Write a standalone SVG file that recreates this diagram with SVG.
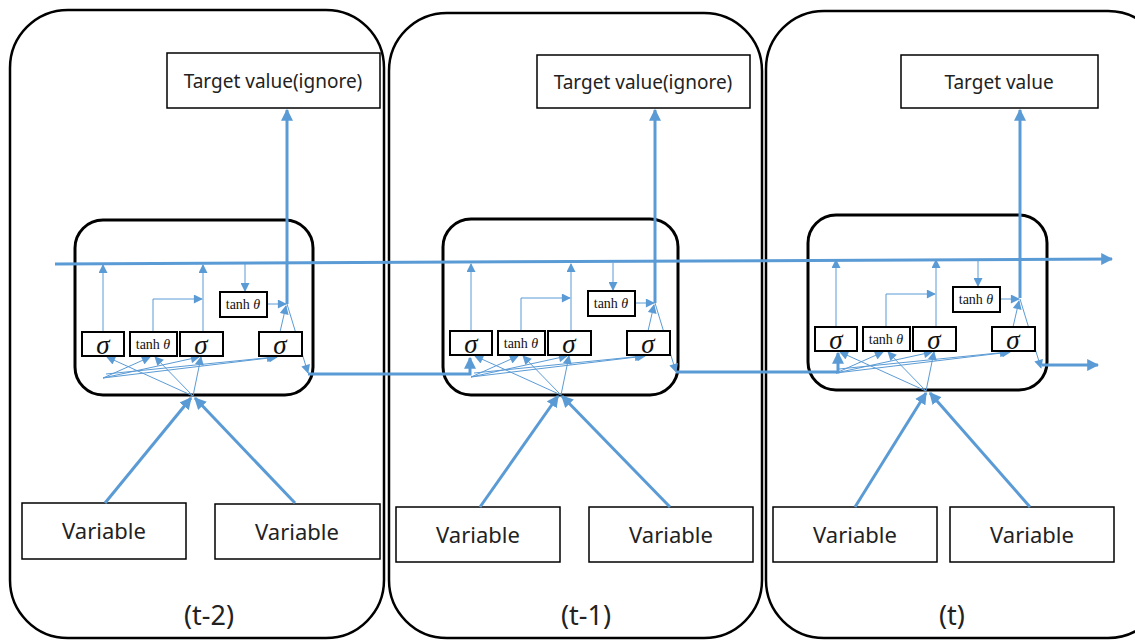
<svg xmlns="http://www.w3.org/2000/svg" width="1135" height="640" viewBox="0 0 1135 640">
<style>
.panel{fill:none;stroke:#000;stroke-width:2.5}
.cell{fill:none;stroke:#000;stroke-width:3}
.box{fill:#fff;stroke:#000;stroke-width:1.5}
.gate{fill:#fff;stroke:#000;stroke-width:2}
.lbl{font-family:"Noto Sans","Open Sans",sans-serif;font-size:19px;fill:#222;text-anchor:middle}
.var{font-family:"Noto Sans","Open Sans",sans-serif;font-size:22px;fill:#222;text-anchor:middle}
.time{font-family:"Noto Sans","Open Sans",sans-serif;font-size:27px;fill:#222;text-anchor:middle}
.sig{font-family:"Liberation Serif","DejaVu Serif",serif;font-style:italic;font-size:27px;fill:#111;text-anchor:middle}
.tanh{font-family:"Liberation Serif","DejaVu Serif",serif;font-size:14px;fill:#111;text-anchor:middle}
.th{stroke:#5B9BD5;stroke-width:3;fill:none}
.tn{stroke:#5B9BD5;stroke-width:1;fill:none}
</style>
<defs>
<marker id="ah" viewBox="0 0 10 10" refX="9" refY="5" markerWidth="4" markerHeight="4" orient="auto" markerUnits="strokeWidth"><path d="M0,0 L10,5 L0,10 z" fill="#5B9BD5"/></marker>
<marker id="as" viewBox="0 0 10 10" refX="9" refY="5" markerWidth="10" markerHeight="9" orient="auto" markerUnits="strokeWidth"><path d="M0,0 L10,5 L0,10 z" fill="#5B9BD5"/></marker>
</defs>

<g id="panel-t2">
<rect class="panel" x="10" y="10" width="374" height="628" rx="58"/>
<text class="time" x="209" y="625">(t-2)</text>
</g>
<g id="panel-t1">
<rect class="panel" x="389" y="13" width="373" height="625" rx="58"/>
<text class="time" x="586" y="625">(t-1)</text>
</g>
<g id="panel-t">
<rect class="panel" x="766" y="11" width="400" height="627" rx="58"/>
<text class="time" x="952" y="625">(t)</text>
</g>

<g id="target-t2"><rect class="box" x="167" y="53" width="213" height="55"/><text class="lbl" x="273" y="88">Target value(ignore)</text></g>
<g id="target-t1"><rect class="box" x="537" y="55" width="213" height="53"/><text class="lbl" x="643" y="89">Target value(ignore)</text></g>
<g id="target-t"><rect class="box" x="901" y="55" width="197" height="53"/><text class="lbl" x="999" y="89">Target value</text></g>

<g id="var-t2-a"><rect class="box" x="22" y="503" width="164" height="56"/><text class="var" x="104" y="539">Variable</text></g>
<g id="var-t2-b"><rect class="box" x="215" y="504" width="165" height="55"/><text class="var" x="297" y="540">Variable</text></g>
<g id="var-t1-a"><rect class="box" x="396" y="507" width="164" height="55"/><text class="var" x="478" y="543">Variable</text></g>
<g id="var-t1-b"><rect class="box" x="589" y="507" width="164" height="55"/><text class="var" x="671" y="543">Variable</text></g>
<g id="var-t-a"><rect class="box" x="773" y="507" width="164" height="55"/><text class="var" x="855" y="543">Variable</text></g>
<g id="var-t-b"><rect class="box" x="950" y="507" width="164" height="55"/><text class="var" x="1032" y="543">Variable</text></g>

<g id="cell-t2"><rect class="cell" x="75" y="220" width="238" height="175" rx="28"/></g>
<g id="cell-t1"><rect class="cell" x="443" y="219" width="235" height="176" rx="28"/></g>
<g id="cell-t"><rect class="cell" x="808" y="215" width="239" height="175" rx="28"/></g>

<g id="connectors">
<path class="th" d="M55,264 L1112,259" marker-end="url(#ah)"/>
<path class="th" d="M308,374 H470 V358" marker-end="url(#ah)"/>
<path class="th" d="M676,372 H838 V353" marker-end="url(#ah)"/>
<path class="th" d="M1042,365 H1098" marker-end="url(#ah)"/>
<path class="th" d="M287,304 V110" marker-end="url(#ah)"/>
<path class="th" d="M655,303 V110" marker-end="url(#ah)"/>
<path class="th" d="M1020,298 V110" marker-end="url(#ah)"/>
<path class="th" d="M105,503 L191,398" marker-end="url(#ah)"/>
<path class="th" d="M295,503 L195,398" marker-end="url(#ah)"/>
<path class="th" d="M480,507 L558,396" marker-end="url(#ah)"/>
<path class="th" d="M670,507 L562,396" marker-end="url(#ah)"/>
<path class="th" d="M855,507 L926,393" marker-end="url(#ah)"/>
<path class="th" d="M1030,507 L930,393" marker-end="url(#ah)"/>

<g transform="translate(0,0)">
<path class="tn" d="M103,332 V265" marker-end="url(#as)"/>
<path class="tn" d="M153,332 V299 H202" marker-end="url(#as)"/>
<path class="tn" d="M203,332 V265" marker-end="url(#as)"/>
<path class="tn" d="M245,264 V291" marker-end="url(#as)"/>
<path class="tn" d="M267,304 H286" marker-end="url(#as)"/>
<path class="tn" d="M280,332 L286,306" marker-end="url(#as)"/>
<path class="tn" d="M287,304 L308,373" marker-end="url(#as)"/>
<path class="tn" d="M103,378 L150,357" marker-end="url(#as)"/>
<path class="tn" d="M103,378 L199,357" marker-end="url(#as)"/>
<path class="tn" d="M103,378 L277,357" marker-end="url(#as)"/>
<path class="tn" d="M106,374 L275,357" marker-end="url(#as)"/>
<path class="tn" d="M193,396 L107,357" marker-end="url(#as)"/>
<path class="tn" d="M193,396 L155,357" marker-end="url(#as)"/>
<path class="tn" d="M193,396 L201,357" marker-end="url(#as)"/>
</g>
<g transform="translate(368,-1)">
<path class="tn" d="M103,332 V265" marker-end="url(#as)"/>
<path class="tn" d="M153,332 V299 H202" marker-end="url(#as)"/>
<path class="tn" d="M203,332 V265" marker-end="url(#as)"/>
<path class="tn" d="M245,264 V291" marker-end="url(#as)"/>
<path class="tn" d="M267,304 H286" marker-end="url(#as)"/>
<path class="tn" d="M280,332 L286,306" marker-end="url(#as)"/>
<path class="tn" d="M287,304 L308,373" marker-end="url(#as)"/>
<path class="tn" d="M103,378 L150,357" marker-end="url(#as)"/>
<path class="tn" d="M103,378 L199,357" marker-end="url(#as)"/>
<path class="tn" d="M103,378 L277,357" marker-end="url(#as)"/>
<path class="tn" d="M106,374 L275,357" marker-end="url(#as)"/>
<path class="tn" d="M193,396 L107,357" marker-end="url(#as)"/>
<path class="tn" d="M193,396 L155,357" marker-end="url(#as)"/>
<path class="tn" d="M193,396 L201,357" marker-end="url(#as)"/>
</g>
<g transform="translate(733,-5)">
<path class="tn" d="M103,332 V265" marker-end="url(#as)"/>
<path class="tn" d="M153,332 V299 H202" marker-end="url(#as)"/>
<path class="tn" d="M203,332 V265" marker-end="url(#as)"/>
<path class="tn" d="M245,264 V291" marker-end="url(#as)"/>
<path class="tn" d="M267,304 H286" marker-end="url(#as)"/>
<path class="tn" d="M280,332 L286,306" marker-end="url(#as)"/>
<path class="tn" d="M287,304 L308,373" marker-end="url(#as)"/>
<path class="tn" d="M103,378 L150,357" marker-end="url(#as)"/>
<path class="tn" d="M103,378 L199,357" marker-end="url(#as)"/>
<path class="tn" d="M103,378 L277,357" marker-end="url(#as)"/>
<path class="tn" d="M106,374 L275,357" marker-end="url(#as)"/>
<path class="tn" d="M193,396 L107,357" marker-end="url(#as)"/>
<path class="tn" d="M193,396 L155,357" marker-end="url(#as)"/>
<path class="tn" d="M193,396 L201,357" marker-end="url(#as)"/>
</g>
</g>

<g id="gates-t2">
<g id="t2-sig1"><rect class="gate" x="82" y="332" width="42" height="24"/><text class="sig" x="103" y="354">σ</text></g>
<g id="t2-tanh1"><rect class="gate" x="130" y="332" width="47" height="24"/><text class="tanh" x="153" y="349">tanh <tspan font-style="italic">θ</tspan></text></g>
<g id="t2-sig2"><rect class="gate" x="180" y="332" width="43" height="24"/><text class="sig" x="201" y="354">σ</text></g>
<g id="t2-sig4"><rect class="gate" x="259" y="332" width="43" height="24"/><text class="sig" x="280" y="354">σ</text></g>
<g id="t2-tanh2"><rect class="gate" x="220" y="292" width="47" height="25"/><text class="tanh" x="243" y="309">tanh <tspan font-style="italic">θ</tspan></text></g>
</g>
<g id="gates-t1" transform="translate(368,-1)">
<g id="t1-sig1"><rect class="gate" x="82" y="332" width="42" height="24"/><text class="sig" x="103" y="354">σ</text></g>
<g id="t1-tanh1"><rect class="gate" x="130" y="332" width="47" height="24"/><text class="tanh" x="153" y="349">tanh <tspan font-style="italic">θ</tspan></text></g>
<g id="t1-sig2"><rect class="gate" x="180" y="332" width="43" height="24"/><text class="sig" x="201" y="354">σ</text></g>
<g id="t1-sig4"><rect class="gate" x="259" y="332" width="43" height="24"/><text class="sig" x="280" y="354">σ</text></g>
<g id="t1-tanh2"><rect class="gate" x="220" y="292" width="47" height="25"/><text class="tanh" x="243" y="309">tanh <tspan font-style="italic">θ</tspan></text></g>
</g>
<g id="gates-t" transform="translate(733,-5)">
<g id="t-sig1"><rect class="gate" x="82" y="332" width="42" height="24"/><text class="sig" x="103" y="354">σ</text></g>
<g id="t-tanh1"><rect class="gate" x="130" y="332" width="47" height="24"/><text class="tanh" x="153" y="349">tanh <tspan font-style="italic">θ</tspan></text></g>
<g id="t-sig2"><rect class="gate" x="180" y="332" width="43" height="24"/><text class="sig" x="201" y="354">σ</text></g>
<g id="t-sig4"><rect class="gate" x="259" y="332" width="43" height="24"/><text class="sig" x="280" y="354">σ</text></g>
<g id="t-tanh2"><rect class="gate" x="220" y="292" width="47" height="25"/><text class="tanh" x="243" y="309">tanh <tspan font-style="italic">θ</tspan></text></g>
</g>
</svg>
